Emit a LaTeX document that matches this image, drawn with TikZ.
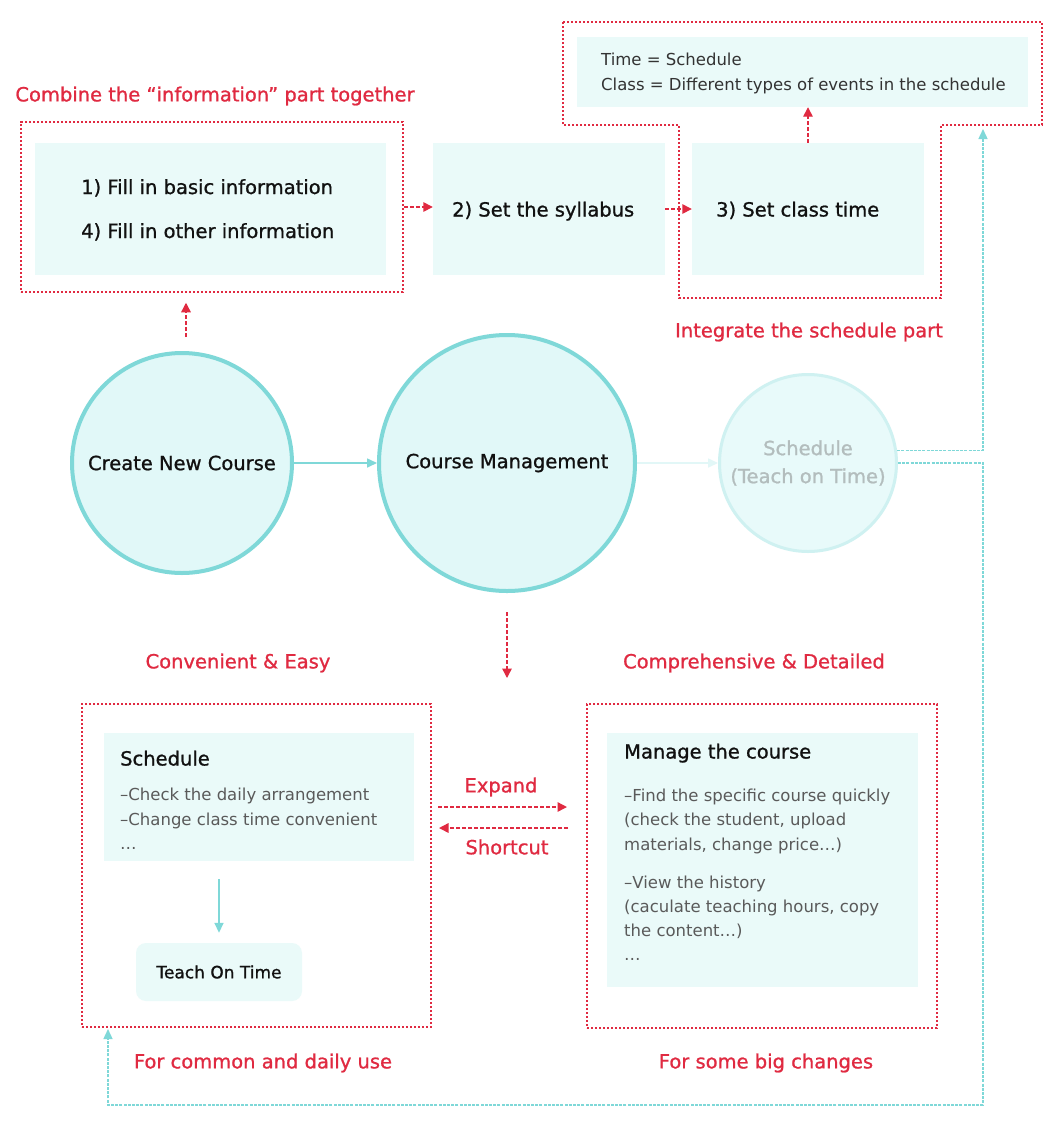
\documentclass[tikz,border=0pt]{standalone}
\usepackage{fontspec}
\setmainfont{DejaVu Sans}[BoldFont={DejaVu Sans}, BoldFeatures={FakeBold=1.0}]
\usetikzlibrary{arrows.meta,calc}

\definecolor{accent}{HTML}{E02A41}
\definecolor{tealline}{HTML}{7FD8D8}
\definecolor{circfill}{HTML}{E1F8F8}
\definecolor{boxfill}{HTML}{EAFAF9}
\definecolor{fadeline}{HTML}{CFF1F1}
\definecolor{fadefill}{HTML}{E8FAFA}
\definecolor{fadetext}{HTML}{B3BDBD}
\definecolor{faintarrow}{HTML}{E2F7F7}
\definecolor{bodytext}{HTML}{5A5A5A}
\definecolor{notetext}{HTML}{333333}
\definecolor{ink}{HTML}{111111}

\newcommand{\fsBig}{\fontsize{19.5}{23}\selectfont}
\newcommand{\fsSmall}{\fontsize{16.5}{20}\selectfont}

\tikzset{
  reddot/.style={draw=accent, line width=1.5pt, dash pattern=on 2.2pt off 1.8pt},
  groupbox/.style={reddot, rectangle, inner sep=0pt},
  panel/.style={fill=boxfill, draw=none, rectangle, inner sep=0pt},
  redarrow/.style={draw=accent, line width=1.4pt, dash pattern=on 4pt off 2pt,
                   -{Triangle[length=9.5pt,width=9.5pt]}},
  tealarrow/.style={draw=tealline, line width=1.6pt, -{Triangle[length=10pt,width=9pt]}},
  tealdash/.style={draw=tealline, line width=1.4pt, dash pattern=on 3pt off 1.2pt,
                   -{Triangle[length=10pt,width=9pt]}},
  hub/.style={circle, draw=tealline, fill=circfill, line width=4pt, inner sep=0pt,
              font=\fsBig\bfseries, text=ink, align=center},
  redlabel/.style={font=\fsBig\bfseries, text=accent, inner sep=0pt},
  boxtext/.style={font=\fsBig\bfseries, text=ink, inner sep=0pt, anchor=base west},
  headtext/.style={font=\fsBig\bfseries, text=ink, inner sep=0pt, anchor=base west},
  listtext/.style={font=\fsSmall, text=bodytext, inner sep=0pt, anchor=base west},
  notetxt/.style={font=\fsSmall, text=notetext, inner sep=0pt, anchor=base west},
}

\begin{document}
\begin{tikzpicture}[x=1pt,y=-1pt]
\useasboundingbox[fill=white] (0,0) rectangle (1060,1128);

% ---------- top row: the course-creation steps ----------
\node[redlabel] (tInfo) at (215,96) {Combine the “information” part together};
\node[groupbox, minimum width=382, minimum height=170] (infoGroup) at (212,207) {};
\node[panel, minimum width=351, minimum height=132] (basic) at (210.5,209) {};
\node[boxtext] (basicA) at (81,194) {1) Fill in basic information};
\node[boxtext] (basicB) at (81,238) {4) Fill in other information};

\node[panel, minimum width=232, minimum height=132] (syl) at (549,209) {};
\node[boxtext] (sylT) at (452,216.5) {2) Set the syllabus};

\node[panel, minimum width=232, minimum height=132] (cls) at (808,209) {};
\node[boxtext] (clsT) at (716,216.5) {3) Set class time};

% schedule group outline (T shape)
\draw[reddot] (563,22) -- (1042,22) -- (1042,125) -- (941,125) -- (941,298)
  -- (679,298) -- (679,125) -- (563,125) -- cycle;
\node[panel, minimum width=451, minimum height=70] (notes) at (802.5,72) {};
\node[notetxt] (noteA) at (601,65.5) {Time = Schedule};
\node[notetxt] (noteB) at (601,90.5) {Class = Different types of events in the schedule};
\node[redlabel] (tSched) at (809,332) {Integrate the schedule part};

\draw[redarrow] (infoGroup.east) -- (infoGroup.east -| syl.west);
\draw[redarrow] (syl.east) -- (cls.west);
\draw[redarrow] (cls.north) -- (cls.north |- notes.south);

% ---------- middle row: the three stages ----------
\node[hub, minimum size=220] (c1) at (182,463) {Create New Course};
\node[hub, minimum size=256] (c2) at (507,463) {Course Management};
\node[hub, minimum size=177, draw=fadeline, fill=fadefill, text=fadetext, line width=3pt]
  (c3) at (808,463) {Schedule\\[5pt](Teach on Time)};

\draw[tealarrow] (c1) -- (c2);
\draw[tealarrow, draw=faintarrow, line width=1.6pt] (c2) -- (c3);
\draw[redarrow, shorten <=14pt, shorten >=10pt] (c1.north -| 186,0) -- (infoGroup.south -| 186,0);

\coordinate (split) at (507,678);
\draw[redarrow, shorten <=19pt] (c2.south) -- (split);

% schedule feedback loops
\coordinate (notesIn) at (983,129);
\coordinate (loopR) at (983,1105);
\coordinate (dailyIn) at (108,1029);
\draw[tealdash] (c3.8) -| (notesIn);
\draw[tealdash] (c3.east) -| (loopR) -| (dailyIn);

% ---------- bottom row: the two ways of working ----------
\node[redlabel] (tEasy) at (238,663) {Convenient \& Easy};
\node[redlabel] (tDetail) at (754,663) {Comprehensive \& Detailed};

\node[groupbox, minimum width=349, minimum height=323] (leftGroup) at (256.5,865.5) {};
\node[panel, minimum width=310, minimum height=128] (schedPanel) at (259,797) {};
\node[headtext] (schedH) at (120,765.5) {Schedule};
\node[listtext] (schedA) at (120,800) {–Check the daily arrangement};
\node[listtext] (schedB) at (120,825) {–Change class time convenient};
\node[listtext] (schedC) at (120,849) {…};

\node[panel, rounded corners=10pt, minimum width=166, minimum height=58,
      font=\fontsize{17}{20}\selectfont\bfseries, text=ink] (teach) at (219,972) {Teach On Time};
\draw[tealarrow, shorten <=18pt, shorten >=10pt] (teach.north |- schedPanel.south) -- (teach.north);

\node[groupbox, minimum width=350, minimum height=324] (rightGroup) at (762,866) {};
\node[panel, minimum width=311, minimum height=254] (managePanel) at (762.5,860) {};
\node[headtext] (manH) at (624,758.5) {Manage the course};
\node[listtext] (manA) at (624,801) {–Find the specific course quickly};
\node[listtext] (manB) at (624,825.5) {(check the student, upload};
\node[listtext] (manC) at (624,850) {materials, change price…)};
\node[listtext] (manD) at (624,888) {–View the history};
\node[listtext] (manE) at (624,912.5) {(caculate teaching hours, copy};
\node[listtext] (manF) at (624,936) {the content…)};
\node[listtext] (manG) at (624,960) {…};

\node[redlabel] (tExpand) at (501,787) {Expand};
\node[redlabel] (tShort) at (507,847) {Shortcut};
\coordinate (expA) at (438,807);
\coordinate (expB) at (567,807);
\coordinate (shA) at (568,828);
\coordinate (shB) at (439,828);
\draw[redarrow] (expA) -- (expB);
\draw[redarrow] (shA) -- (shB);

\node[redlabel] (tDaily) at (263,1063) {For common and daily use};
\node[redlabel] (tBig) at (766,1063) {For some big changes};
\end{tikzpicture}
\end{document}
